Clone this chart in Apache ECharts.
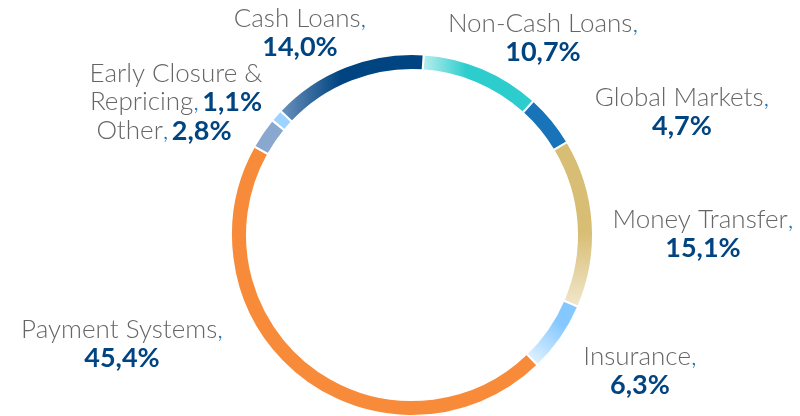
<!DOCTYPE html>
<html>
<head>
<meta charset="utf-8">
<script src="https://cdn.jsdelivr.net/npm/echarts@6/dist/echarts.min.js"></script>
<style>
  html, body { margin: 0; padding: 0; background: #fff; }
  #chart { width: 800px; height: 416px; }
</style>
</head>
<body>
<div id="chart"></div>
<script>
// segments, clockwise from the top
var names = ['Non-Cash Loans', 'Global Markets', 'Money Transfer', 'Insurance',
  'Payment Systems', 'Other', 'Early Closure & Repricing', 'Cash Loans'];
var shares = [10.7, 4.7, 15.1, 6.3, 45.4, 2.8, 1.1, 14.0];

function grad(x, y, x2, y2, stops) {
  return new echarts.graphic.LinearGradient(x, y, x2, y2, stops);
}

var colors = [
  grad(0, 0, 1, 0, [{offset: 0, color: '#bcefef'}, {offset: 0.4, color: '#2dcccd'}, {offset: 1, color: '#2dcccd'}]),
  '#1973b8',
  grad(0, 0, 0, 1, [{offset: 0, color: '#d8be75'}, {offset: 0.55, color: '#d8be75'}, {offset: 1, color: '#f1e8cd'}]),
  grad(1, 0, 0, 1, [{offset: 0, color: '#85c8ff'}, {offset: 0.35, color: '#85c8ff'}, {offset: 1, color: '#eef8ff'}]),
  '#f78b3a',
  '#8aa7cf',
  '#9fd3ff',
  grad(0, 0, 1, 0, [{offset: 0, color: '#6d93bd'}, {offset: 0.42, color: '#004481'}, {offset: 1, color: '#004481'}])
];

// where each label block sits (centre point)
var labelSpots = [[543, 38], [682, 112], [703, 234], [640, 371], [122, 344], [164, 131], [176, 88], [300, 33]];

function pct(v) {
  return v.toFixed(1).replace('.', ',') + '%';
}

function labelText(i) {
  var v = pct(shares[i]);
  if (i === 6) return '{n|Early Closure &}\n{n|Repricing}{c|,} {v|' + v + '}';
  if (i === 5) return '{n|' + names[i] + '}{c|,} {v|' + v + '}';
  return '{n|' + names[i] + '}{c|,}\n{v|' + v + '}';
}

var chart = echarts.init(document.getElementById('chart'));

var option = {
  animation: false,
  series: [{
    type: 'pie',
    center: [412, 235],
    radius: [165, 181],
    startAngle: 86.3,
    clockwise: true,
    avoidLabelOverlap: false,
    itemStyle: {
      borderColor: '#fff',
      borderWidth: 2
    },
    labelLine: { show: false },
    label: {
      show: true,
      position: 'outside',
      formatter: function (p) { return labelText(p.dataIndex); },
      rich: {
        n: { fontFamily: 'Lato', fontWeight: 300, fontSize: 26, color: '#666666', lineHeight: 28 },
        c: { fontFamily: 'Lato', fontWeight: 300, fontSize: 26, color: '#1973b8', lineHeight: 28 },
        v: { fontFamily: 'Lato', fontWeight: 'bold', fontSize: 27, color: '#004481', lineHeight: 28 }
      }
    },
    labelLayout: function (p) {
      var s = labelSpots[p.dataIndex];
      return { x: s[0], y: s[1], align: 'center', verticalAlign: 'middle' };
    },
    data: names.map(function (n, i) {
      return { name: n, value: shares[i], itemStyle: { color: colors[i] } };
    })
  }]
};

chart.setOption(option);
</script>
</body>
</html>
